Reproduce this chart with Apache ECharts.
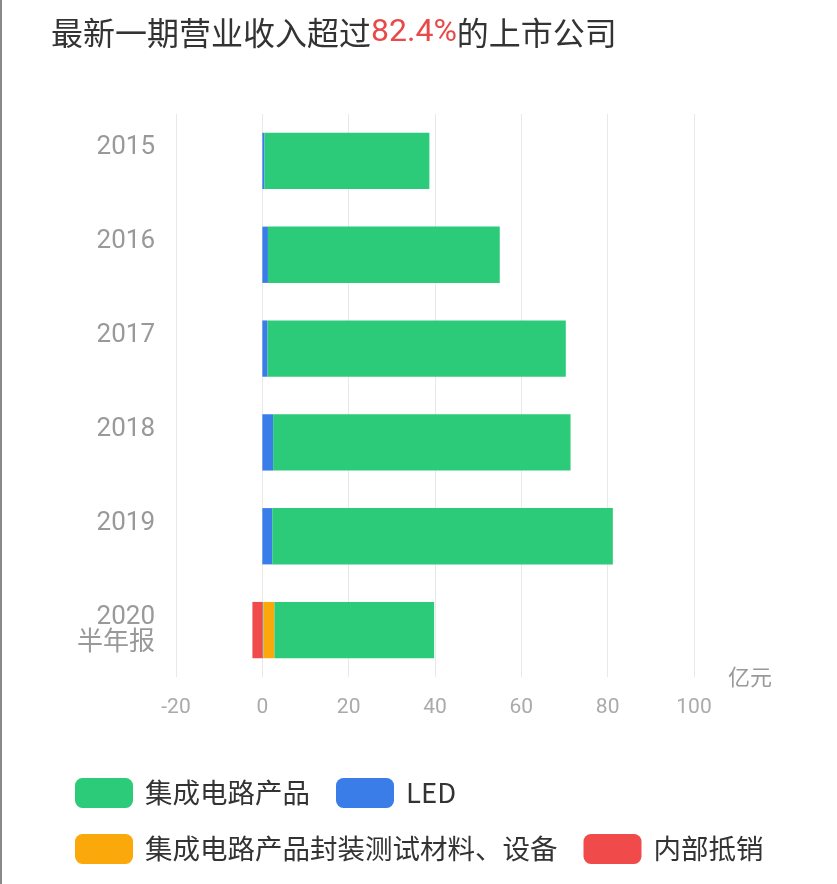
<!DOCTYPE html>
<html>
<head>
<meta charset="utf-8">
<script src="https://cdn.jsdelivr.net/npm/echarts@6/dist/echarts.min.js"></script>
<style>
  html, body { margin: 0; padding: 0; background: #fff; }
  #main { width: 837px; height: 884px; }
</style>
</head>
<body>
<div id="main"></div>
<script>
// 数据（亿元）
var years = ['2015', '2016', '2017', '2018', '2019', '2020\n半年报']
var icData = [38.2, 53.7, 69.1, 68.9, 78.9, 37.0]
var ledData = [0.5, 1.3, 1.2, 2.5, 2.3, 0.2]
var pkgData = [0, 0, 0, 0, 0, 2.6]
var offsetData = [0, 0, 0, 0, 0, -2.3]
var xTicks = [-20, 0, 20, 40, 60, 80, 100]

var names = ['集成电路产品', 'LED', '集成电路产品封装测试材料、设备', '内部抵销']

var mainEcharts = echarts.init(document.getElementById('main'))
var option = {
  backgroundColor: '#fff',
  textStyle: { fontFamily: 'Roboto, "Noto Sans CJK SC", sans-serif' },
  title: {
    text: '{a|最新一期营业收入超过}{b|82.4%}{a|的上市公司}',
    left: 46,
    top: 12,
    textStyle: {
      rich: {
        a: { fontSize: 32, color: '#333', fontWeight: 'normal', fontFamily: '"Noto Sans CJK SC", sans-serif' },
        b: { fontSize: 32, color: '#e84a4a', fontWeight: 'normal', fontFamily: 'Roboto, sans-serif' }
      }
    }
  },
  graphic: [{
    type: 'rect',
    left: 0, top: 0,
    shape: { width: 2, height: 884 },
    style: { fill: '#888' }
  }],
  legend: {
    data: names,
    left: 70,
    top: 773,
    width: 720,
    icon: 'roundRect',
    itemWidth: 58,
    itemHeight: 30,
    itemGap: 26,
    textStyle: {
      fontSize: 27.5,
      color: '#333',
      padding: [0, 0, 0, 7],
      fontFamily: '"Noto Sans CJK SC", Roboto, sans-serif'
    }
  },
  grid: {
    left: 176,
    right: 143,
    top: 114,
    bottom: 207,
    containLabel: false
  },
  xAxis: {
    type: 'value',
    min: xTicks[0],
    max: xTicks[xTicks.length - 1],
    interval: 20,
    name: '亿元',
    nameLocation: 'end',
    nameGap: 34,
    nameTextStyle: { fontSize: 22, color: '#999', fontFamily: '"Noto Sans CJK SC", sans-serif' },
    axisLine: { show: false },
    axisTick: { show: false },
    axisLabel: { fontSize: 21, color: '#aaa', margin: 20 },
    splitLine: { show: true, lineStyle: { color: '#e8e8e8', width: 1 } }
  },
  yAxis: {
    type: 'category',
    data: years,
    inverse: true,
    axisLine: { show: false },
    axisTick: { show: false },
    axisLabel: {
      fontSize: 26,
      color: '#999',
      margin: 21,
      lineHeight: 26,
      fontFamily: 'Roboto, "Noto Sans CJK SC", sans-serif',
      // 单行标签放在上半行
      formatter: function (v) {
        return v.indexOf('\n') < 0 ? v + '\n ' : v
      }
    }
  },
  series: [
    {
      name: 'LED',
      type: 'bar',
      stack: 'total',
      barWidth: '60%',
      itemStyle: { color: '#3b7de8' },
      data: ledData
    },
    {
      name: '集成电路产品封装测试材料、设备',
      type: 'bar',
      stack: 'total',
      itemStyle: { color: '#fba90a' },
      data: pkgData
    },
    {
      name: '集成电路产品',
      type: 'bar',
      stack: 'total',
      itemStyle: { color: '#2bcb79' },
      data: icData
    },
    {
      name: '内部抵销',
      type: 'bar',
      stack: 'total',
      itemStyle: { color: '#f04a4a' },
      data: offsetData
    }
  ]
}
mainEcharts.setOption(option)
</script>
</body>
</html>
